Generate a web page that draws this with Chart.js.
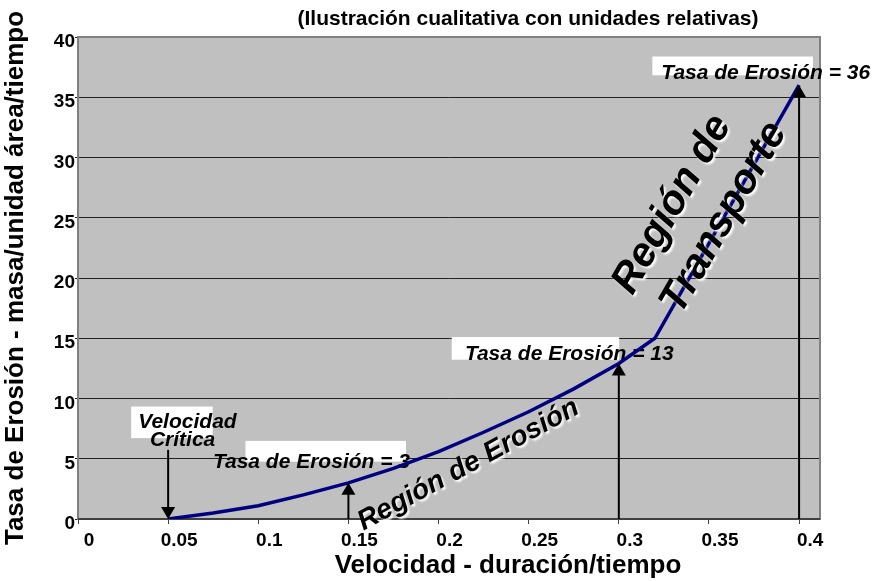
<!DOCTYPE html>
<html lang="es">
<head>
<meta charset="UTF-8" />
<title>Tasa de Erosión</title>
<style>
  html, body { margin: 0; padding: 0; background: #fff; }
  #wrap { position: relative; width: 888px; height: 581px; }
</style>
</head>
<body>
<div id="wrap"><canvas id="erosionChart" width="888" height="581"></canvas></div>
<script src="https://cdn.jsdelivr.net/npm/chart.js"></script>
<script>
  // valores (unidades relativas)
  const velocidad = [0.05, 0.075, 0.1, 0.125, 0.15, 0.175, 0.2, 0.225, 0.25, 0.275, 0.3, 0.32, 0.4];
  const tasaErosion = [0, 0.5, 1.1, 2.0, 3.0, 4.2, 5.6, 7.2, 8.9, 10.8, 12.9, 15, 36];
  const xTicks = [0, 0.05, 0.1, 0.15, 0.2, 0.25, 0.3, 0.35, 0.4];
  const yTicks = [0, 5, 10, 15, 20, 25, 30, 35, 40];
  // flechas hacia la curva en estas velocidades
  const flechasX = [0.15, 0.3, 0.4];
  const etiquetas = ["Tasa de Erosión = 3", "Tasa de Erosión = 13", "Tasa de Erosión = 36"];

  const FAMILIA = "'Liberation Sans', Arial, sans-serif";

  // posiciones de las anotaciones en coordenadas de datos
  const cajas = [
    { x1: 0.0295, x2: 0.0747, y1: 9.33, y2: 6.71 },
    { x1: 0.0929, x2: 0.1819, y1: 6.48, y2: 4.76 },
    { x1: 0.2073, x2: 0.3002, y1: 15.1, y2: 13.22 },
    { x1: 0.3186, x2: 0.4077, y1: 38.38, y2: 36.82 },
  ];
  const posEtiquetas = [
    { x: 0.1295, y: 4.7 },
    { x: 0.2725, y: 13.67 },
    { x: 0.3815, y: 37.0 },
  ];

  function flecha(ctx, x, yDesde, yHasta) {
    const dir = yHasta > yDesde ? 1 : -1;
    ctx.beginPath();
    ctx.moveTo(x, yDesde);
    ctx.lineTo(x, yHasta - dir * 10);
    ctx.stroke();
    ctx.beginPath();
    ctx.moveTo(x, yHasta);
    ctx.lineTo(x - 7, yHasta - dir * 12);
    ctx.lineTo(x + 7, yHasta - dir * 12);
    ctx.closePath();
    ctx.fill();
  }

  function textoGirado(ctx, txt, x, y, ang, size) {
    ctx.save();
    ctx.translate(x, y);
    ctx.rotate((ang * Math.PI) / 180);
    ctx.font = "italic bold " + size + "px " + FAMILIA;
    ctx.textAlign = "center";
    ctx.textBaseline = "middle";
    ctx.shadowColor = "rgba(255,255,255,0.95)";
    ctx.shadowOffsetX = 2;
    ctx.shadowOffsetY = 2;
    ctx.shadowBlur = 2;
    ctx.fillStyle = "#000";
    ctx.fillText(txt, 0, 0);
    ctx.restore();
  }

  const anotaciones = {
    id: "anotaciones",
    beforeDraw(chart) {
      const { ctx, chartArea: a } = chart;
      ctx.save();
      ctx.fillStyle = "#c0c0c0";
      ctx.fillRect(a.left, a.top, a.width, a.height);
      ctx.restore();
    },
    beforeDatasetsDraw(chart) {
      const { ctx, chartArea: a, scales } = chart;
      const px = (v) => scales.x.getPixelForValue(v);
      const py = (v) => scales.y.getPixelForValue(v);
      ctx.save();
      // marco gris del área de trazado
      ctx.strokeStyle = "#808080";
      ctx.lineWidth = 2;
      ctx.strokeRect(a.left, a.top, a.width, a.height);
      ctx.strokeStyle = "#404040";
      ctx.beginPath();
      ctx.moveTo(a.left, a.bottom);
      ctx.lineTo(a.right, a.bottom);
      ctx.stroke();

      // cajas blancas
      ctx.fillStyle = "#fff";
      cajas.forEach((c) => {
        ctx.fillRect(px(c.x1), py(c.y1), px(c.x2) - px(c.x1), py(c.y2) - py(c.y1));
      });

      ctx.fillStyle = "#000";
      ctx.font = "italic bold 21px " + FAMILIA;
      ctx.textAlign = "center";
      ctx.textBaseline = "middle";
      ctx.fillText("Velocidad", px(0.0607), py(8.06));
      ctx.fillText("Crítica", px(0.058), py(6.53));
      etiquetas.forEach((t, i) => {
        ctx.fillText(t, px(posEtiquetas[i].x), py(posEtiquetas[i].y));
      });
      ctx.restore();
    },
    afterDatasetsDraw(chart) {
      const { ctx, scales } = chart;
      const px = (v) => scales.x.getPixelForValue(v);
      const py = (v) => scales.y.getPixelForValue(v);
      ctx.save();
      ctx.strokeStyle = "#000";
      ctx.fillStyle = "#000";
      ctx.lineWidth = 2;
      // velocidad crítica: flecha hacia abajo
      flecha(ctx, px(velocidad[0]), py(5.74), py(tasaErosion[0]));
      flechasX.forEach((v) => {
        const i = velocidad.indexOf(v);
        flecha(ctx, px(v), py(0), py(tasaErosion[i]));
      });
      ctx.restore();

      textoGirado(ctx, "Región de Erosión", px(0.2166), py(4.49), -28.5, 28);
      textoGirado(ctx, "Región de", px(0.3297), py(26.1), -60, 41);
      textoGirado(ctx, "Transporte", px(0.3584), py(25.0), -60, 41);

      // título y títulos de ejes
      ctx.save();
      ctx.fillStyle = "#000";
      ctx.textAlign = "center";
      ctx.textBaseline = "alphabetic";
      ctx.font = "bold 21px " + FAMILIA;
      ctx.fillText("(Ilustración cualitativa con unidades relativas)", 528, 25);
      ctx.font = "bold 26px " + FAMILIA;
      ctx.fillText("Velocidad - duración/tiempo", 508, 573);
      ctx.translate(23, 278);
      ctx.rotate(-Math.PI / 2);
      ctx.font = "bold 26px " + FAMILIA;
      ctx.fillText("Tasa de Erosión - masa/unidad área/tiempo", 0, 0);
      ctx.restore();
    },
  };

  const ctx = document.getElementById("erosionChart").getContext("2d");
  new Chart(ctx, {
    type: "scatter",
    data: {
      datasets: [
        {
          label: "Tasa de Erosión",
          data: velocidad.map((v, i) => ({ x: v, y: tasaErosion[i] })),
          showLine: true,
          borderColor: "#000080",
          backgroundColor: "#000080",
          borderWidth: 3.5,
          pointRadius: 0,
          tension: 0,
        },
      ],
    },
    options: {
      responsive: false,
      animation: false,
      devicePixelRatio: 1,
      layout: { padding: { top: 37, right: 68, left: 0, bottom: 0 } },
      plugins: {
        legend: { display: false },
        tooltip: { enabled: false },
      },
      scales: {
        x: {
          type: "linear",
          min: 0,
          max: 0.4116,
          afterBuildTicks: (s) => {
            s.ticks = xTicks.map((v) => ({ value: v }));
          },
          afterFit: (s) => {
            s.height = 62;
          },
          grid: { drawOnChartArea: false, drawTicks: true, tickLength: 5, color: "#404040" },
          border: { display: true, color: "#404040", width: 2 },
          ticks: {
            color: "#000",
            font: { family: FAMILIA, size: 19, weight: "bold" },
            padding: 5,
            labelOffset: 11,
            callback: (v) => String(Number(v.toFixed(2))),
          },
          title: { display: false },
        },
        y: {
          min: 0,
          max: 40,
          afterBuildTicks: (s) => {
            s.ticks = yTicks.map((v) => ({ value: v }));
          },
          afterFit: (s) => {
            s.width = 78;
          },
          grid: { color: "#202020", lineWidth: 1, tickLength: 3 },
          border: { display: true, color: "#808080", width: 2 },
          ticks: {
            color: "#000",
            font: { family: FAMILIA, size: 19, weight: "bold" },
            padding: 0,
            labelOffset: 5,
          },
          title: { display: false },
        },
      },
    },
    plugins: [anotaciones],
  });
</script>
</body>
</html>
